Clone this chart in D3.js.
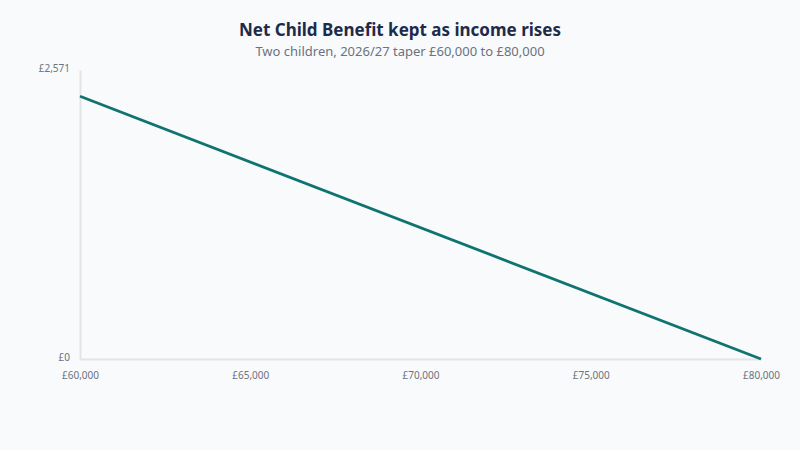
<!DOCTYPE html>
<html>
<head>
<meta charset="utf-8">
<script src="https://cdn.jsdelivr.net/npm/d3@7"></script>
<style>
  body { margin: 0; background: #f8fafc; font-family: "Noto Sans", "Open Sans", sans-serif; }
</style>
</head>
<body>
<script>
/* Data */
const incomes = [60000, 80000];
const benefitKept = [2337.4, 0];
const xTicks = [60000, 65000, 70000, 75000, 80000];
const yMax = 2571;

/* Constants */
const W = 800, H = 450;
const MARGIN = { top: 70, right: 39, bottom: 91, left: 80 };

const svg = d3.select("body").append("svg")
  .attr("width", W)
  .attr("height", H);

svg.append("rect").attr("width", W).attr("height", H).attr("fill", "#f8fafc");

/* Titles */
svg.append("text")
  .attr("x", W / 2).attr("y", 36)
  .attr("text-anchor", "middle")
  .style("font-size", "17px").style("font-weight", "bold")
  .attr("fill", "#1e2b4a")
  .text("Net Child Benefit kept as income rises");

svg.append("text")
  .attr("x", W / 2).attr("y", 56)
  .attr("text-anchor", "middle")
  .style("font-size", "13px")
  .attr("fill", "#6b7280")
  .text("Two children, 2026/27 taper £60,000 to £80,000");

/* Scales */
const x = d3.scaleLinear().domain([60000, 80000]).range([MARGIN.left, W - MARGIN.right]);
const y = d3.scaleLinear().domain([0, yMax]).range([H - MARGIN.bottom, MARGIN.top]);

const fmt = d => "£" + d3.format(",")(d);

/* Axes */
const xAxis = svg.append("g")
  .attr("transform", "translate(0," + y(0) + ")")
  .call(d3.axisBottom(x).tickValues(xTicks).tickFormat(fmt).tickSize(0).tickPadding(13));

const yAxis = svg.append("g")
  .attr("transform", "translate(" + MARGIN.left + ",0)")
  .call(d3.axisLeft(y).tickValues([0, yMax]).tickFormat(fmt).tickSize(0).tickPadding(10));

[xAxis, yAxis].forEach(g => {
  g.select(".domain").attr("stroke", "#e2e4e8").attr("stroke-width", 2);
  g.selectAll("text").attr("fill", "#6b7280").style("font-size", "10px")
    .style("font-family", "'Noto Sans', sans-serif");
});
yAxis.selectAll(".tick text").attr("dy", "0.1em");

/* Line */
const pts = incomes.map((d, i) => [d, benefitKept[i]]);
svg.append("path")
  .datum(pts)
  .attr("fill", "none")
  .attr("stroke", "#0f7370")
  .attr("stroke-width", 2.8)
  .attr("d", d3.line().x(d => x(d[0])).y(d => y(d[1])));
</script>
</body>
</html>
